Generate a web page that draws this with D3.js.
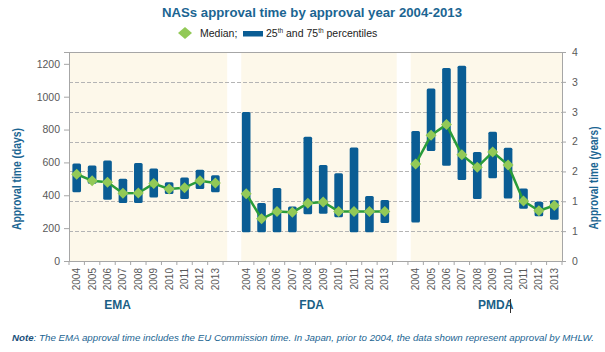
<!DOCTYPE html>
<html>
<head>
<meta charset="utf-8">
<script src="https://cdn.jsdelivr.net/npm/d3@7"></script>
<style>
  body { margin: 0; background: #fff; }
  text { font-family: "Liberation Sans Narrow", "Arial Narrow", "Liberation Sans", Arial, sans-serif; }
</style>
</head>
<body>
<div id="chart"></div>
<script>
const agencies = ['EMA', 'FDA', 'PMDA'];
const years = ['2004','2005','2006','2007','2008','2009','2010','2011','2012','2013'];

// approval time in days
const emaP25 = [418, 470, 373, 353, 353, 387, 408, 377, 438, 418];
const emaP75 = [593, 581, 612, 501, 597, 563, 479, 508, 555, 522];
const emaMedian = [528, 489, 479, 412, 414, 471, 438, 446, 489, 475];

const fdaP25 = [175, 175, 175, 175, 285, 287, 267, 175, 175, 232];
const fdaP75 = [907, 353, 444, 332, 756, 585, 534, 691, 396, 371];
const fdaMedian = [410, 257, 302, 296, 351, 359, 302, 302, 302, 302];

const pmdaP25 = [234, 669, 579, 493, 377, 504, 381, 318, 273, 251];
const pmdaP75 = [791, 1050, 1174, 1189, 663, 787, 689, 442, 361, 369];
const pmdaMedian = [591, 765, 830, 646, 571, 663, 585, 365, 306, 338];

const daysTicks = [0, 200, 400, 600, 800, 1000, 1200];
const yearsTicks = [0, 4/7, 8/7, 12/7, 16/7, 20/7, 24/7, 4];

const width = 605, height = 352;
const plotL = 69, plotR = 562, plotT = 52, plotB = 261;

const blue = '#0a5d94';
const titleBlue = '#1b6592';
const greenLine = '#2a9c3a';
const greenDot = '#92c957';
const grey = '#595959';
const axisGrey = '#a6a6a6';

const series = [
  { name: 'EMA', p25: emaP25, p75: emaP75, med: emaMedian },
  { name: 'FDA', p25: fdaP25, p75: fdaP75, med: fdaMedian },
  { name: 'PMDA', p25: pmdaP25, p75: pmdaP75, med: pmdaMedian }
];

// 10 years per agency with an empty slot between agencies
let slots = [];
agencies.forEach((a, i) => {
  years.forEach(y => slots.push(a + y));
  if (i < agencies.length - 1) slots.push('gap' + i);
});

const x = d3.scaleBand().domain(slots).range([plotL, plotR]).paddingInner(0).paddingOuter(0);
const bw = x.bandwidth();

const yDays = d3.scaleLinear().domain([0, 1272]).range([plotB, plotT]);
const yYears = d3.scaleLinear().domain([0, 4]).range([plotB, plotT]);

const svg = d3.select('#chart')
  .append('svg')
  .attr('width', width)
  .attr('height', height);

// cream panels behind each agency
series.forEach((s, i) => {
  let x0 = i === 0 ? plotL : x(s.name + years[0]) + bw * 0.18;
  let x1 = Math.min(plotR, x(s.name + years[years.length - 1]) + bw * 1.27);
  svg.append('rect')
    .attr('x', x0)
    .attr('y', plotT)
    .attr('width', x1 - x0)
    .attr('height', plotB - plotT)
    .attr('fill', '#fdf8ea');
});

// dashed grid on the right-hand ticks
svg.append('g')
  .selectAll('line')
  .data(yearsTicks.slice(1, -1))
  .enter()
  .append('line')
  .attr('x1', plotL)
  .attr('x2', plotR)
  .attr('y1', d => Math.round(yYears(d)) + 0.5)
  .attr('y2', d => Math.round(yYears(d)) + 0.5)
  .attr('stroke', '#b4b4b4')
  .attr('stroke-dasharray', '4,2')
  .attr('stroke-width', 1);

// frame top
svg.append('line')
  .attr('x1', plotL).attr('x2', plotR)
  .attr('y1', plotT + 0.5).attr('y2', plotT + 0.5)
  .attr('stroke', axisGrey);

// left axis
const yAxisL = svg.append('g')
  .attr('transform', `translate(${plotL},0)`)
  .call(d3.axisLeft(yDays).tickValues(daysTicks).tickSize(5).tickPadding(4).tickFormat(d3.format('d')));

// right axis
const yAxisR = svg.append('g')
  .attr('transform', `translate(${plotR},0)`)
  .call(d3.axisRight(yYears).tickValues(yearsTicks).tickSize(4).tickPadding(6).tickFormat(d => Math.round(d)));

[yAxisL, yAxisR].forEach(a => {
  a.select('.domain').attr('stroke', axisGrey);
  a.selectAll('.tick line').attr('stroke', axisGrey);
  a.selectAll('.tick text').attr('fill', grey).style('font-size', '10.5px')
    .style('font-family', '"Liberation Sans Narrow", "Arial Narrow", "Liberation Sans", sans-serif');
});

// x axis: ticks at every slot boundary
const xAxis = svg.append('g').attr('transform', `translate(0,${plotB})`);
xAxis.append('line')
  .attr('x1', plotL).attr('x2', plotR)
  .attr('y1', 0.5).attr('y2', 0.5)
  .attr('stroke', axisGrey);
xAxis.selectAll('.xt')
  .data(d3.range(slots.length + 1))
  .enter()
  .append('line')
  .attr('class', 'xt')
  .attr('x1', d => plotL + d * bw)
  .attr('x2', d => plotL + d * bw)
  .attr('y1', 0)
  .attr('y2', 4)
  .attr('stroke', axisGrey);

series.forEach(s => {
  xAxis.selectAll('.yl-' + s.name)
    .data(years)
    .enter()
    .append('text')
    .attr('class', 'yl-' + s.name)
    .attr('transform', d => `translate(${x(s.name + d) + bw / 2 + 3.5},${7}) rotate(-90)`)
    .attr('text-anchor', 'end')
    .attr('fill', grey)
    .style('font-size', '10px')
    .text(d => d);
});

// agency labels
const labelSlot = [3.15, 15.75, 27.7];
series.forEach((s, i) => {
  svg.append('text')
    .attr('x', plotL + labelSlot[i] * bw)
    .attr('y', 309)
    .attr('text-anchor', 'middle')
    .attr('fill', '#1b5f86')
    .style('font-size', '12px')
    .style('font-weight', 'bold')
    .text(s.name);
});
// stray text cursor after PMDA in the source picture
svg.append('line')
  .attr('x1', 510.5).attr('x2', 510.5)
  .attr('y1', 299).attr('y2', 313)
  .attr('stroke', '#333')
  .attr('stroke-width', 1);

// bars and medians
const barW = bw * 0.56;
series.forEach(s => {
  const g = svg.append('g');

  g.selectAll('rect')
    .data(years)
    .enter()
    .append('rect')
    .attr('x', d => x(s.name + d) + (bw - barW) / 2)
    .attr('y', (d, i) => yDays(s.p75[i]))
    .attr('width', barW)
    .attr('height', (d, i) => yDays(s.p25[i]) - yDays(s.p75[i]))
    .attr('rx', 1.5)
    .attr('fill', blue);

  const line = d3.line()
    .x((d, i) => x(s.name + years[i]) + bw / 2)
    .y(d => yDays(d));

  g.append('path')
    .datum(s.med)
    .attr('d', line)
    .attr('fill', 'none')
    .attr('stroke', greenLine)
    .attr('stroke-width', 2.5)
    .attr('stroke-linejoin', 'round');

  g.selectAll('.med')
    .data(s.med)
    .enter()
    .append('path')
    .attr('class', 'med')
    .attr('transform', (d, i) => `translate(${x(s.name + years[i]) + bw / 2},${yDays(d)})`)
    .attr('d', 'M0,-5.5L5.5,0L0,5.5L-5.5,0Z')
    .attr('fill', greenDot);
});

// axis titles
svg.append('text')
  .attr('transform', `translate(21,179) rotate(-90)`)
  .attr('text-anchor', 'middle')
  .attr('fill', titleBlue)
  .style('font-size', '12px')
  .style('font-weight', 'bold')
  .attr('textLength', 102)
  .attr('lengthAdjust', 'spacingAndGlyphs')
  .text('Approval time (days)');

svg.append('text')
  .attr('transform', `translate(598,178) rotate(-90)`)
  .attr('text-anchor', 'middle')
  .attr('fill', titleBlue)
  .style('font-size', '12px')
  .style('font-weight', 'bold')
  .attr('textLength', 103)
  .attr('lengthAdjust', 'spacingAndGlyphs')
  .text('Approval time (years)');

// title
svg.append('text')
  .attr('x', 312)
  .attr('y', 17)
  .attr('text-anchor', 'middle')
  .attr('fill', titleBlue)
  .style('font-size', '13.5px')
  .style('font-weight', 'bold')
  .attr('textLength', 300)
  .attr('lengthAdjust', 'spacingAndGlyphs')
  .text('NASs approval time by approval year 2004-2013');

// legend
const legend = svg.append('g');
legend.append('path')
  .attr('transform', 'translate(185,33)')
  .attr('d', 'M0,-6L7,0L0,6L-7,0Z')
  .attr('fill', greenDot);
legend.append('text')
  .attr('x', 200).attr('y', 37)
  .attr('fill', '#222')
  .style('font-size', '10.5px')
  .text('Median;');
legend.append('rect')
  .attr('x', 243).attr('y', 31)
  .attr('width', 20).attr('height', 5.5)
  .attr('fill', blue);
const lt = legend.append('text')
  .attr('x', 266).attr('y', 37)
  .attr('fill', '#222')
  .style('font-size', '10.5px');
lt.append('tspan').text('25');
lt.append('tspan').attr('dy', -4).style('font-size', '6.5px').text('th');
lt.append('tspan').attr('dy', 4).text(' and 75');
lt.append('tspan').attr('dy', -4).style('font-size', '6.5px').text('th');
lt.append('tspan').attr('dy', 4).text(' percentiles');

// note
const note = svg.append('text')
  .attr('x', 12)
  .attr('y', 341)
  .attr('fill', titleBlue)
  .style('font-size', '9.5px')
  .style('font-style', 'italic')
  .attr('textLength', 582)
  .attr('lengthAdjust', 'spacingAndGlyphs');
note.append('tspan').style('font-weight', 'bold').attr('fill', '#1a4f7a').text('Note');
note.append('tspan').text(': The EMA approval time includes the EU Commission time. In Japan, prior to 2004, the data shown represent approval by MHLW.');
</script>
</body>
</html>
